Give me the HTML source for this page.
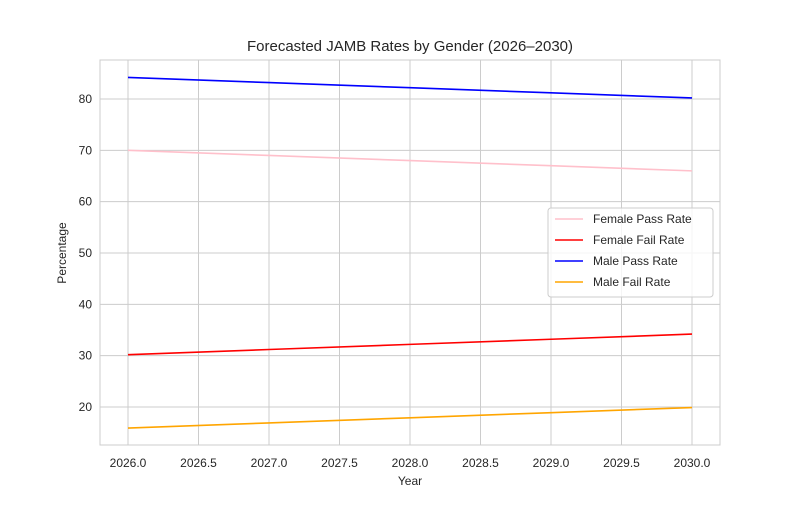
<!DOCTYPE html>
<html><head><meta charset="utf-8"><style>
body{margin:0;background:#fff;}
svg{font-family:"Liberation Sans",sans-serif;}
</style></head><body>
<svg id="chart" width="800" height="500"></svg>
<script>
const years=[2026,2027,2028,2029,2030];
const femalePass=[70,69,68,67,66];
const femaleFail=[30.2,31.2,32.2,33.2,34.2];
const malePass=[84.2,83.2,82.2,81.2,80.2];
const maleFail=[15.9,16.9,17.9,18.9,19.9];
const xTicks=[2026,2026.5,2027,2027.5,2028,2028.5,2029,2029.5,2030];
const yTicks=[20,30,40,50,60,70,80];
const seriesNames=["Female Pass Rate","Female Fail Rate","Male Pass Rate","Male Fail Rate"];
const seriesColors=["pink","red","blue","orange"];

const NS="http://www.w3.org/2000/svg";
const svg=document.getElementById('chart');
const L=100,R=720,T=60,B=445;
const x=v=>128+(v-2026)*141;
const y=v=>407-(v-20)*5.1333;
function mk(tag,attrs,parent){const e=document.createElementNS(NS,tag);for(const k in attrs)e.setAttribute(k,attrs[k]);(parent||svg).appendChild(e);return e;}

const grid=mk('g',{});


xTicks.forEach(t=>{
  mk('line',{x1:x(t),x2:x(t),y1:T,y2:B,stroke:'#cccccc','stroke-width':1},grid);
  const tx=mk('text',{x:x(t),y:B+22,'text-anchor':'middle','font-size':12,fill:'#262626'});
  tx.textContent=t.toFixed(1);
  
  
});
yTicks.forEach(t=>{
  mk('line',{x1:L,x2:R,y1:y(t),y2:y(t),stroke:'#cccccc','stroke-width':1},grid);
  const tx=mk('text',{x:L-8,y:y(t)+4,'text-anchor':'end','font-size':12,fill:'#262626'});
  tx.textContent=t;
  
  
});
const frame=mk('rect',{x:L,y:T,width:R-L,height:B-T,fill:'none',stroke:'#cccccc','stroke-width':1});



const data=[femalePass,femaleFail,malePass,maleFail];
data.forEach((s,i)=>{
  const p=mk('polyline',{points:s.map((v,j)=>x(years[j])+','+y(v)).join(' '),fill:'none',stroke:seriesColors[i],'stroke-width':1.6});
  
  
});

const title=mk('text',{x:410,y:51,'text-anchor':'middle','font-size':15,fill:'#262626'});
title.textContent='Forecasted JAMB Rates by Gender (2026–2030)';


const xt=mk('text',{x:410,y:485,'text-anchor':'middle','font-size':12,fill:'#262626'});
xt.textContent='Year';


const yt=mk('text',{x:0,y:0,'text-anchor':'middle','font-size':12,fill:'#262626',transform:'translate(66,253) rotate(-90)'});
yt.textContent='Percentage';



const lg=mk('g',{});


mk('rect',{x:548,y:208,width:165,height:89,rx:3,fill:'#fff','fill-opacity':0.8,stroke:'#cccccc'},lg);
seriesNames.forEach((n,i)=>{
  const yy=219+i*21;
  const e=mk('g',{},lg);
  
  
  mk('line',{x1:555,x2:583,y1:yy,y2:yy,stroke:seriesColors[i],'stroke-width':1.6},e);
  const t=mk('text',{x:593,y:yy+4,'font-size':12,fill:'#262626'},e);
  t.textContent=n;
});
</script>
</body></html>
